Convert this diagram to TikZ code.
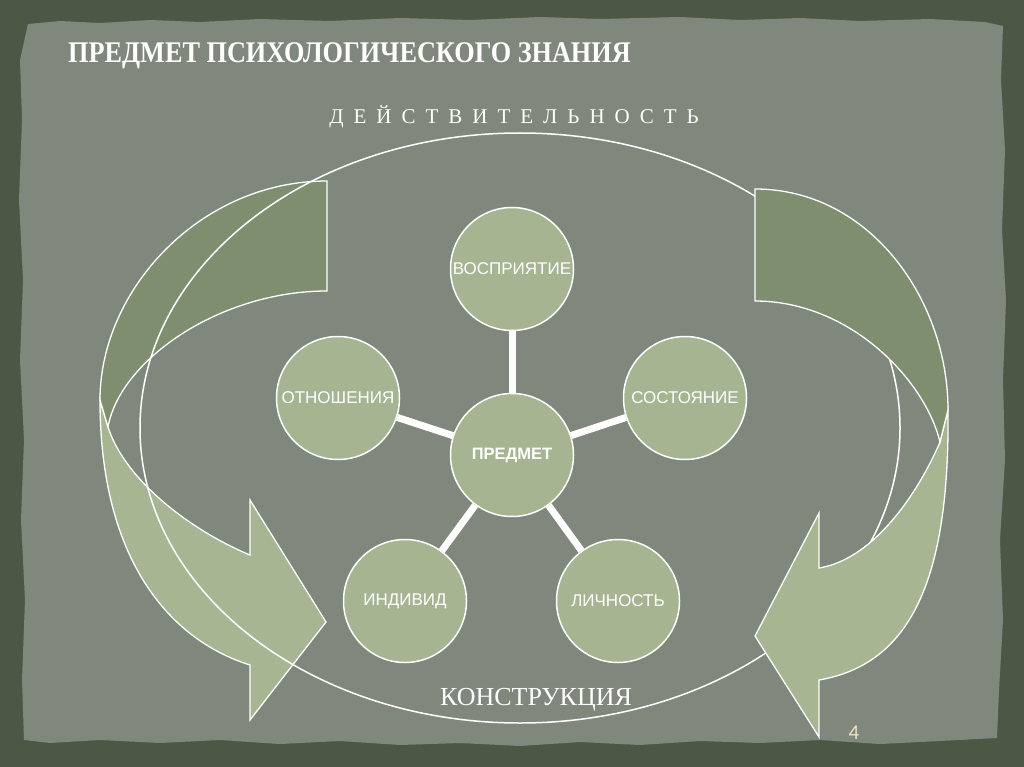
\documentclass[tikz,border=0pt]{standalone}
\usepackage{fontspec}
\usepackage{graphicx}
\setmainfont{Liberation Serif}
\newfontfamily\arialf{Liberation Sans}
\newfontfamily\calf{Carlito}
\definecolor{borderc}{HTML}{4C5843}
\definecolor{paperc}{HTML}{80877C}
\definecolor{backg}{HTML}{7F8E6F}
\definecolor{frontg}{HTML}{A7B592}
\definecolor{circg}{HTML}{A6B491}
\definecolor{numc}{HTML}{EAE4C0}
\newcommand{\ls}{\hspace{10pt}}
\tikzset{
  arrowline/.style={draw=white, line width=1.3pt, line join=miter},
  backpart/.style={arrowline, fill=backg},
  frontpart/.style={arrowline, fill=frontg},
  bigoval/.style={draw=white, line width=1.5pt},
  bubble/.style={circle, minimum size=123pt, inner sep=0pt, fill=circg, draw=white, line width=1.5pt, text=white, font=\arialf\fontsize{17pt}{20pt}\selectfont},
  spoke/.style={draw=white, line width=7pt},
  whitetext/.style={text=white, inner sep=0pt}
}
\begin{document}
\begin{tikzpicture}[x=1pt,y=-1pt]
\useasboundingbox (0,0) rectangle (1024,767);
\fill[borderc] (0,0) rectangle (1024,767);
\fill[paperc] (28,24) -- (60,21) -- (100,23) -- (150,20) -- (200,22) -- (260,19) -- (330,21) -- (400,18) -- (470,20) -- (540,17) -- (600,19) -- (680,17) -- (740,20) -- (800,18) -- (860,21) -- (930,19) -- (985,22) -- (1003,26)
 -- (1001,80) -- (1005,150) -- (1002,230) -- (1006,300) -- (1003,380) -- (1005,460) -- (1000,540) -- (1003,620) -- (999,690) -- (997,738)
 -- (940,741) -- (880,744) -- (820,740) -- (760,743) -- (700,741) -- (640,745) -- (580,742) -- (520,746) -- (460,743) -- (400,745) -- (340,741) -- (280,744) -- (220,740) -- (160,743) -- (100,740) -- (50,743) -- (24,740)
 -- (22,680) -- (25,600) -- (21,520) -- (24,440) -- (20,360) -- (23,280) -- (19,200) -- (22,120) -- (20,60) -- cycle;

% left curved arrow
\draw[frontpart] (100,400) .. controls (100,560) and (170,640) .. (250,665) -- (250,720) -- (326,622) -- (250,500) -- (250,555) .. controls (190,530) and (125,480) .. (108,427) -- cycle;
\draw[backpart] (327,291) -- (327,181) .. controls (200,181) and (100,290) .. (100,400) -- (108,427) .. controls (120,360) and (220,291) .. (327,291) -- cycle;

% big oval
\draw[bigoval] (520,428) ellipse [x radius=380, y radius=295];

% right curved arrow
\draw[frontpart] (948,410) .. controls (950,590) and (905,665) .. (819,680) -- (819,737) -- (755,636) -- (819,513) -- (819,568) .. controls (870,560) and (915,500) .. (940,442) -- cycle;
\draw[backpart] (755,301) -- (755,189) .. controls (870,189) and (948,300) .. (948,410) -- (940,442) .. controls (925,380) and (850,301) .. (755,301) -- cycle;

% bubbles
\node[bubble] (V) at (512,269) {ВОСПРИЯТИЕ};
\node[bubble] (S) at (685,398) {СОСТОЯНИЕ};
\node[bubble] (O) at (338,398) {ОТНОШЕНИЯ};
\node[bubble, font=\arialf\bfseries\fontsize{16.5pt}{19pt}\selectfont] (P) at (512,455) {ПРЕДМЕТ};
\node[bubble] (I) at (405,601) {ИНДИВИД};
\node[bubble] (L) at (618,601) {ЛИЧНОСТЬ};
\draw[spoke] (P) -- (V);
\draw[spoke] (P) -- (S);
\draw[spoke] (P) -- (O);
\draw[spoke] (P) -- (I);
\draw[spoke] (P) -- (L);

% texts
\node[whitetext, anchor=base west, font=\bfseries\fontsize{30pt}{34pt}\selectfont] (T) at (68,63) {\scalebox{0.875}[1]{ПРЕДМЕТ ПСИХОЛОГИЧЕСКОГО ЗНАНИЯ}};
\node[whitetext, anchor=base, font=\fontsize{21pt}{24pt}\selectfont] (D) at (514,124) {Д\ls Е\ls Й\ls С\ls Т\ls В\ls И\ls Т\ls Е\ls Л\ls Ь\ls Н\ls О\ls С\ls Т\ls Ь};
\node[whitetext, anchor=base, font=\fontsize{26pt}{30pt}\selectfont] (K) at (536,705) {КОНСТРУКЦИЯ};
\node[inner sep=0pt, text=numc, anchor=base, font=\calf\fontsize{21pt}{24pt}\selectfont] (N) at (854,739) {4};
\end{tikzpicture}
\end{document}
